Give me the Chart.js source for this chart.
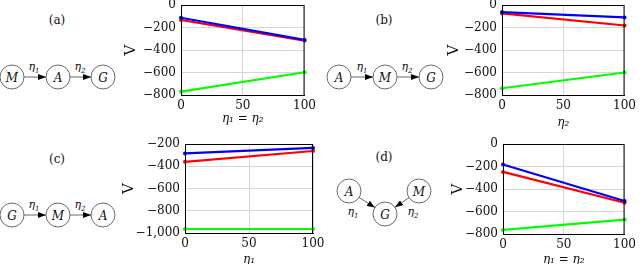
<!DOCTYPE html>
<html>
<head>
<meta charset="utf-8">
<script src="https://cdn.jsdelivr.net/npm/chart.js@4"></script>
<style>
html, body { margin: 0; padding: 0; background: #fff; overflow: hidden; }
#wrap { position: relative; width: 640px; height: 264px; }
#wrap canvas { position: absolute; }
#dia { position: absolute; left: 0; top: 0; }
#dia text { font-family: "DejaVu Serif", "Liberation Serif", serif; fill: #111; }
</style>
</head>
<body>
<div id="wrap">
<svg id="dia" width="640" height="264">
  <defs>
    <marker id="ah" markerWidth="8" markerHeight="6" refX="8" refY="3" orient="auto" markerUnits="userSpaceOnUse">
      <path d="M0,0 L8,3 L0,6 z" fill="#000"/>
    </marker>
  </defs>
  <g stroke="#444" stroke-width="0.8" fill="#fff">
    <!-- (a) -->
    <circle cx="12" cy="77" r="12"/><circle cx="58" cy="77" r="12"/><circle cx="103" cy="77" r="12"/>
    <!-- (b) -->
    <circle cx="339" cy="77" r="12"/><circle cx="385" cy="77" r="12"/><circle cx="431" cy="77" r="12"/>
    <!-- (c) -->
    <circle cx="12" cy="215" r="12"/><circle cx="58" cy="215" r="12"/><circle cx="103" cy="215" r="12"/>
    <!-- (d) -->
    <circle cx="349" cy="191" r="12"/><circle cx="419" cy="191" r="12"/><circle cx="385" cy="214" r="12"/>
  </g>
  <g stroke="#555" stroke-width="0.9" marker-end="url(#ah)">
    <line x1="24" y1="77" x2="46" y2="77"/><line x1="70" y1="77" x2="91" y2="77"/>
    <line x1="351" y1="77" x2="373" y2="77"/><line x1="397" y1="77" x2="419" y2="77"/>
    <line x1="24" y1="215" x2="46" y2="215"/><line x1="70" y1="215" x2="91" y2="215"/>
    <line x1="359" y1="197.5" x2="375" y2="207.5"/><line x1="409" y1="197.7" x2="395" y2="207.3"/>
  </g>
  <g font-size="12" text-anchor="middle">
    <text x="57" y="24">(a)</text>
    <text x="384" y="24">(b)</text>
    <text x="57" y="163">(c)</text>
    <text x="384" y="161">(d)</text>
  </g>
  <g font-size="12" font-style="italic" text-anchor="middle">
    <text x="12" y="81.5">M</text><text x="58" y="81.5">A</text><text x="103" y="81.5">G</text>
    <text x="339" y="81.5">A</text><text x="385" y="81.5">M</text><text x="431" y="81.5">G</text>
    <text x="12" y="219.5">G</text><text x="58" y="219.5">M</text><text x="103" y="219.5">A</text>
    <text x="349" y="195.5">A</text><text x="419" y="195.5">M</text><text x="385" y="218.5">G</text>
  </g>
  <g font-size="11" font-style="italic" text-anchor="middle">
    <text x="34" y="70">η<tspan font-size="7" dy="3">1</tspan></text>
    <text x="80" y="70">η<tspan font-size="7" dy="3">2</tspan></text>
    <text x="362" y="70">η<tspan font-size="7" dy="3">1</tspan></text>
    <text x="407" y="70">η<tspan font-size="7" dy="3">2</tspan></text>
    <text x="34" y="208">η<tspan font-size="7" dy="3">1</tspan></text>
    <text x="80" y="208">η<tspan font-size="7" dy="3">2</tspan></text>
    <text x="353" y="215">η<tspan font-size="7" dy="3">1</tspan></text>
    <text x="413" y="215">η<tspan font-size="7" dy="3">2</tspan></text>
  </g>
</svg>
</div>
<script>
// x positions of the two runs
const xs = [0, 100];

// (a) M -> A -> G
const aBlue = [-113, -310];
const aRed = [-133, -316];
const aGreen = [-770, -598];
// (b) A -> M -> G
const bBlue = [-63, -110];
const bRed = [-75, -182];
const bGreen = [-740, -600];
// (c) G -> M -> A
const cBlue = [-285, -235];
const cRed = [-360, -263];
const cGreen = [-964, -964];
// (d) A -> G <- M
const dBlue = [-182, -507];
const dRed = [-248, -522];
const dGreen = [-764, -672];

const xTicks = [0, 50, 100];
const titles = ['η₁ = η₂', 'η₂', 'η₁', 'η₁ = η₂'];

const serif = '"DejaVu Serif", "Liberation Serif", serif';

// draw the closed box round the plot area
const boxPlugin = {
  id: 'box',
  afterDraw(chart) {
    const a = chart.chartArea, ctx = chart.ctx;
    ctx.save();
    ctx.strokeStyle = '#000';
    ctx.lineWidth = 1;
    ctx.strokeRect(a.left + 0.5, a.top + 0.5, a.right - a.left - 1, a.bottom - a.top);
    ctx.restore();
  }
};

function fmt(v) {
  return (v < 0 ? '\u2212' : '') + Math.abs(v).toLocaleString('en-US');
}

function pts(ys) {
  return xs.map(function(x, i) { return {x: x, y: ys[i]}; });
}

function ds(ys, col) {
  return {
    data: pts(ys),
    borderColor: col,
    backgroundColor: col,
    borderWidth: 2.2,
    pointRadius: 2,
    pointBorderWidth: 0,
    clip: false
  };
}

const panels = [
  {left: 118, top: -10, w: 202, h: 140, yw: 63, xh: 35, pt: 15, pr: 12, ymin: -800, ymax: 0, t: titles[0], s: [aBlue, aRed, aGreen]},
  {left: 441, top: -10, w: 199, h: 144, yw: 61, xh: 39, pt: 15, pr: 9, ymin: -800, ymax: 0, t: titles[1], s: [bBlue, bRed, bGreen]},
  {left: 116, top: 122, w: 214, h: 149, yw: 69, xh: 38, pt: 22, pr: 17, ymin: -1000, ymax: -200, t: titles[2], s: [cBlue, cRed, cGreen]},
  {left: 445, top: 122, w: 195, h: 149, yw: 58, xh: 37, pt: 22, pr: 9, ymin: -800, ymax: 0, t: titles[3], s: [dBlue, dRed, dGreen]}
];

const wrap = document.getElementById('wrap');
const tickFont = {family: serif, size: 12};

panels.forEach(function(p) {
  const cv = document.createElement('canvas');
  cv.width = p.w; cv.height = p.h;
  cv.style.left = p.left + 'px'; cv.style.top = p.top + 'px';
  cv.style.width = p.w + 'px'; cv.style.height = p.h + 'px';
  wrap.appendChild(cv);

  new Chart(cv, {
    type: 'line',
    data: {
      datasets: [ds(p.s[0], '#0000ff'), ds(p.s[1], '#ff0000'), ds(p.s[2], '#00ff00')]
    },
    options: {
      responsive: false,
      animation: false,
      layout: {padding: {top: p.pt, right: p.pr, left: 0, bottom: 0}},
      plugins: {legend: {display: false}, tooltip: {enabled: false}},
      scales: {
        x: {
          type: 'linear', min: 0, max: 100,
          afterBuildTicks: function(s) { s.ticks = xTicks.map(function(v) { return {value: v}; }); },
          afterFit: function(s) { s.height = p.xh; },
          grid: {color: '#d6d6d6', drawTicks: false},
          border: {color: '#000'},
          ticks: {color: '#111', font: tickFont, padding: 4, maxRotation: 0},
          title: {display: true, text: p.t, color: '#111',
                  font: {family: serif, size: 12, style: 'italic'}}
        },
        y: {
          min: p.ymin, max: p.ymax,
          ticks: {stepSize: 200, color: '#111', font: tickFont, padding: 5, callback: fmt},
          afterFit: function(s) { s.width = p.yw; },
          grid: {color: '#d6d6d6', drawTicks: false},
          border: {color: '#000'},
          title: {display: true, text: 'V', color: '#111',
                  font: {family: serif, size: 15}}
        }
      }
    },
    plugins: [boxPlugin]
  });
});
</script>
</body>
</html>
